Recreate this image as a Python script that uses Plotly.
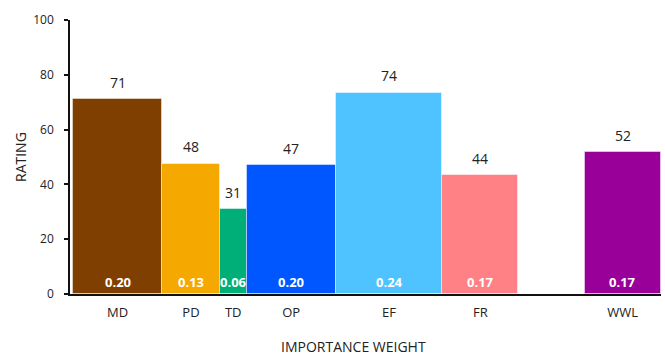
import plotly.graph_objects as go

categories = ["MD", "PD", "TD", "OP", "EF", "FR", "WWL"]
weights = [0.20, 0.13, 0.06, 0.20, 0.24, 0.17, 0.17]
weight_labels = ["0.20", "0.13", "0.06", "0.20", "0.24", "0.17", "0.17"]
ratings = [71.0, 47.6, 30.9, 47.0, 73.5, 43.4, 51.8]
rating_labels = ["71", "48", "31", "47", "74", "44", "52"]
gap_before = [0, 0, 0, 0, 0, 0, 0.15]
colors = ["#7F3F00", "#F5A800", "#00AF78", "#0057FF", "#4FC3FF", "#FF8085", "#990099"]

# compute bar left edges from weights
lefts = []
pos = 0.0
for w, g in zip(weights, gap_before):
    pos += g
    lefts.append(pos)
    pos += w
centers = [l + w / 2 for l, w in zip(lefts, weights)]

FONT = "Open Sans"

fig = go.Figure()
fig.add_trace(go.Bar(
    x=centers, y=ratings, width=weights,
    marker=dict(color=colors, line=dict(color="rgba(255,255,255,0.45)", width=1)),
    hoverinfo="skip", showlegend=False,
))

annotations = []
for c, r, rl, wl in zip(centers, ratings, rating_labels, weight_labels):
    annotations.append(dict(x=c, y=r, xref="x", yref="y", text=rl, showarrow=False,
                            yanchor="middle", yshift=17,
                            font=dict(family=FONT, size=14, color="#222")))
    annotations.append(dict(x=c, y=0, xref="x", yref="y", text="<b>" + wl + "</b>", showarrow=False,
                            yanchor="middle", yshift=12,
                            font=dict(family=FONT, size=13, color="#ffffff")))
annotations.append(dict(x=0.479, y=-52/274, xref="paper", yref="paper", text="IMPORTANCE WEIGHT",
                        showarrow=False, yanchor="middle", xanchor="center", borderpad=0,
                        font=dict(family=FONT, size=14, color="#222")))
annotations.append(dict(x=-50/591, y=0.5, xref="paper", yref="paper", text="RATING", showarrow=False,
                        textangle=-90, xanchor="center", yanchor="middle",
                        font=dict(family=FONT, size=14, color="#222")))

fig.update_layout(
    width=665, height=356,
    margin=dict(l=70, r=4, t=20, b=62),
    paper_bgcolor="white", plot_bgcolor="white",
    font=dict(family=FONT, size=12, color="#222"),
    bargap=0,
    annotations=annotations,
    xaxis=dict(
        range=[-0.0067, 1.321],
        tickmode="array", tickvals=centers, ticktext=categories,
        showline=True, linecolor="#111", linewidth=1.5,
        showgrid=False, zeroline=False,
        ticks="outside", ticklen=6, tickcolor="rgba(0,0,0,0)",
        tickfont=dict(family=FONT, size=13, color="#222"),
    ),
    yaxis=dict(
        range=[0, 100], tickvals=[0, 20, 40, 60, 80, 100],
        showline=True, linecolor="#111", linewidth=1.5,
        showgrid=False, zeroline=False,
        ticks="outside", ticklen=4, tickcolor="#111", tickwidth=1.5,
        ticklabelstandoff=8,
        tickfont=dict(family=FONT, size=12, color="#222"),
    ),
)

fig.write_html("out.html")
